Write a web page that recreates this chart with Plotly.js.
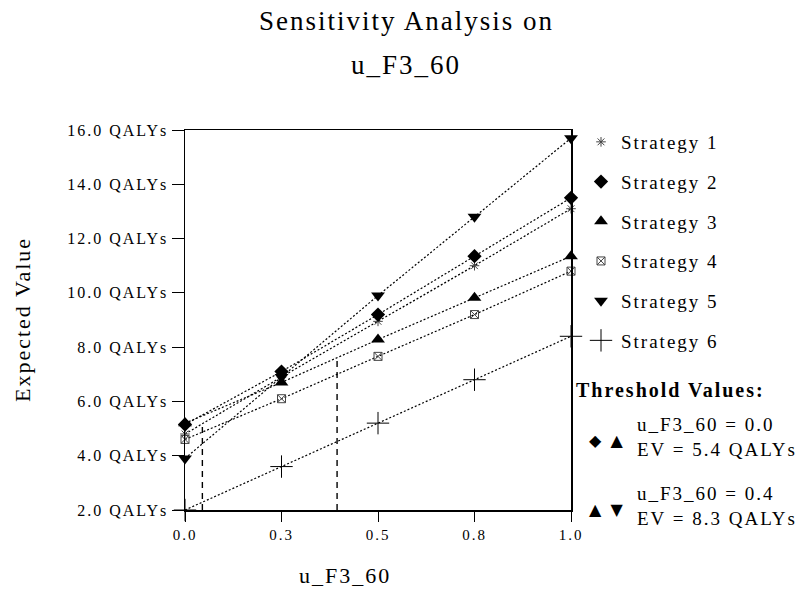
<!DOCTYPE html>
<html><head><meta charset="utf-8">
<script src="https://cdn.plot.ly/plotly-3.0.1.min.js"></script>
<style>
html,body{margin:0;padding:0;background:#fff;}
#chart{width:809px;height:600px;}
svg text{letter-spacing:2px;}
</style></head><body><div id="chart"></div>
<script>
// ---- data ----
const uValues = [0, 0.25, 0.5, 0.75, 1.0];
const xTickValues = [0, 0.25, 0.5, 0.75, 1.0];
const xTickLabels = ["0.0", "0.3", "0.5", "0.8", "1.0"];
const yTickValues = [2, 4, 6, 8, 10, 12, 14, 16];
const yTickLabels = ["2.0 QALYs", "4.0 QALYs", "6.0 QALYs", "8.0 QALYs", "10.0 QALYs", "12.0 QALYs", "14.0 QALYs", "16.0 QALYs"];
const strategyNames = ["Strategy 1", "Strategy 2", "Strategy 3", "Strategy 4", "Strategy 5", "Strategy 6"];
const strategy1 = [4.8, 6.9, 8.95, 11.0, 13.1];
const strategy2 = [5.15, 7.1, 9.2, 11.35, 13.5];
const strategy3 = [5.2, 6.7, 8.28, 9.82, 11.35];
const strategy4 = [4.6, 6.1, 7.66, 9.2, 10.8];
const strategy5 = [3.9, 6.9, 9.9, 12.8, 15.7];
const strategy6 = [2.0, 3.6, 5.2, 6.8, 8.4];
const thresholdU = [0.045, 0.394];
const thresholdTopEV = [5.2, 7.6];
const thresholdGlyphs = ["\u25C6 \u25B2", "\u25B2 \u25BC"];
const thresholdTexts = ["u_F3_60 = 0.0<br>EV = 5.4 QALYs", "u_F3_60 = 0.4<br>EV = 8.3 QALYs"];

// ---- styling ----
const serif = "Liberation Serif, Times New Roman, serif";
const markers = [
  {symbol: "asterisk-open", size: 8, color: "#444", line: {color: "#444", width: 1}},
  {symbol: "diamond", size: 11, color: "#000"},
  {symbol: "triangle-up", size: 12, color: "#000"},
  {symbol: "square-x-open", size: 8, color: "#444", line: {color: "#444", width: 1}},
  {symbol: "triangle-down", size: 12, color: "#000"},
  {symbol: "cross-thin-open", size: 16, color: "#000", line: {color: "#000", width: 1}}
];
const series = [strategy1, strategy2, strategy3, strategy4, strategy5, strategy6];
const drawOrder = [5, 3, 0, 2, 1, 4];

const traces = [];
drawOrder.forEach(i => {
  traces.push({
    x: uValues, y: series[i], type: "scatter", mode: "lines+markers",
    name: strategyNames[i], showlegend: false, cliponaxis: false,
    line: {color: "#000", width: 1.2, dash: "2px,2px"},
    marker: markers[i]
  });
});
thresholdU.forEach((u, i) => {
  traces.push({
    x: [u, u], y: [2, thresholdTopEV[i]], type: "scatter", mode: "lines",
    showlegend: false, hoverinfo: "skip",
    line: {color: "#000", width: 1.4, dash: "6px,5px"}
  });
});
series.forEach((vals, i) => {
  traces.push({
    x: [null], y: [null], type: "scatter", mode: "markers",
    name: strategyNames[i], legendgroup: "g" + i, showlegend: true,
    marker: markers[i]
  });
});

const L = 185, R = 571, T = 130, B = 510;
const px = v => (v - L) / (R - L);
const py = v => (B - v) / (B - T);

const annotations = [
  {text: "Sensitivity Analysis on", x: px(406), y: py(21), xref: "paper", yref: "paper", showarrow: false, xanchor: "center", yanchor: "middle", font: {family: serif, size: 27, color: "#000"}},
  {text: "u_F3_60", x: px(406), y: py(65), xref: "paper", yref: "paper", showarrow: false, xanchor: "center", yanchor: "middle", font: {family: serif, size: 27, color: "#000"}},
  {text: "Expected Value", x: px(22), y: py(320), xref: "paper", yref: "paper", showarrow: false, textangle: -90, xanchor: "center", yanchor: "middle", font: {family: serif, size: 22, color: "#000"}},
  {text: "u_F3_60", x: px(345), y: py(575), xref: "paper", yref: "paper", showarrow: false, xanchor: "center", yanchor: "middle", font: {family: serif, size: 22, color: "#000"}},
  {text: "<b>Threshold Values:</b>", x: px(574), y: py(390), xref: "paper", yref: "paper", showarrow: false, xanchor: "left", yanchor: "middle", font: {family: serif, size: 20, color: "#000"}}
];
const glyphY = [440, 509];
const textY = [437, 506];
thresholdTexts.forEach((t, i) => {
  annotations.push({text: thresholdGlyphs[i], x: px(607), y: py(glyphY[i]), xref: "paper", yref: "paper", showarrow: false, xanchor: "center", yanchor: "middle", font: {family: "DejaVu Sans", size: 16, color: "#000"}});
  annotations.push({text: t, x: px(635), y: py(textY[i]), xref: "paper", yref: "paper", showarrow: false, xanchor: "left", yanchor: "middle", align: "left", font: {family: serif, size: 19, color: "#000"}});
});

const layout = {
  width: 809, height: 600,
  margin: {l: L, r: 809 - R, t: T, b: 600 - B, pad: 0},
  paper_bgcolor: "#fff", plot_bgcolor: "#fff",
  showlegend: true,
  legend: {x: px(581), y: py(123), xanchor: "left", yanchor: "top", traceorder: "grouped", tracegroupgap: 12,
           font: {family: serif, size: 19, color: "#000"}, bgcolor: "rgba(0,0,0,0)", borderwidth: 0, itemwidth: 30},
  xaxis: {range: [0, 1], tickvals: xTickValues, ticktext: xTickLabels, ticks: "outside", ticklen: 10, tickwidth: 1, tickcolor: "#000",
          showline: true, linecolor: "#000", linewidth: 1.5, mirror: true, showgrid: false, zeroline: false,
          tickfont: {family: serif, size: 15, color: "#000"}},
  yaxis: {range: [2, 16], tickvals: yTickValues, ticktext: yTickLabels, ticks: "outside", ticklen: 12, tickwidth: 1, tickcolor: "#000",
          showline: true, linecolor: "#000", linewidth: 1.5, mirror: true, showgrid: false, zeroline: false,
          tickfont: {family: serif, size: 16, color: "#000"}},
  annotations: annotations
};

Plotly.newPlot("chart", traces, layout, {staticPlot: true, displayModeBar: false});
</script></body></html>
